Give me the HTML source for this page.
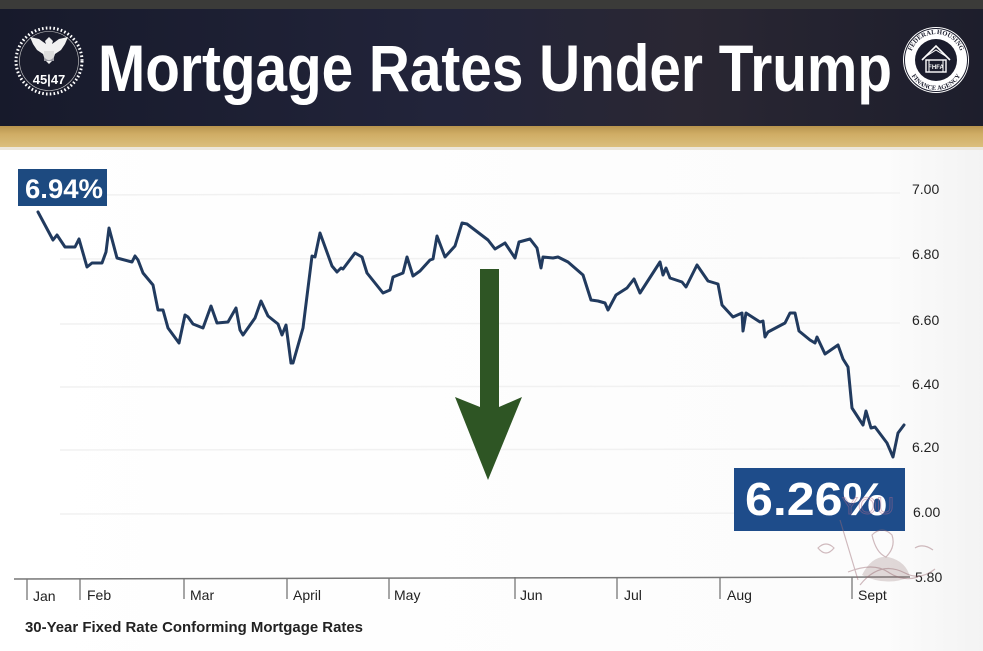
<!DOCTYPE html>
<html>
<head>
<meta charset="utf-8">
<style>
html,body{margin:0;padding:0;background:#fff;}
body{width:983px;height:651px;overflow:hidden;}
svg{display:block;font-family:"Liberation Sans",sans-serif;}
</style>
</head>
<body>
<svg width="983" height="651" viewBox="0 0 983 651" xmlns="http://www.w3.org/2000/svg">
  <defs>
    <linearGradient id="ban" x1="0" y1="0" x2="1" y2="0">
      <stop offset="0" stop-color="#171a2b"/>
      <stop offset="0.45" stop-color="#22243a"/>
      <stop offset="0.7" stop-color="#2a2733"/>
      <stop offset="1" stop-color="#1d1e2c"/>
    </linearGradient>
    <linearGradient id="gold" x1="0" y1="0" x2="0" y2="1">
      <stop offset="0" stop-color="#b8944e"/>
      <stop offset="0.35" stop-color="#cfac64"/>
      <stop offset="1" stop-color="#dcc07e"/>
    </linearGradient>
    <linearGradient id="bg" x1="0" y1="0" x2="1" y2="0">
      <stop offset="0" stop-color="#ffffff"/>
      <stop offset="0.9" stop-color="#fcfcfc"/>
      <stop offset="1" stop-color="#f3f3f3"/>
    </linearGradient>
    <path id="arcTop" d="M 910,60 A 26,26 0 0 1 962,60"/>
    <path id="arcBot" d="M 908,62 A 28,28 0 0 0 964,62"/>
  </defs>

  <rect x="0" y="0" width="983" height="651" fill="url(#bg)"/>

  <!-- header -->
  <rect x="0" y="0" width="983" height="10" fill="#3b3b39"/>
  <rect x="0" y="9" width="983" height="119" fill="url(#ban)"/>
  <rect x="0" y="126" width="983" height="22" fill="url(#gold)"/>
  <rect x="0" y="147" width="983" height="3" fill="#ece7dc"/>

  <!-- left seal -->
  <g>
    <circle cx="49" cy="61" r="33" fill="#1a1c2c" stroke="#ffffff" stroke-width="3" stroke-dasharray="1.6 2.2"/>
    <circle cx="49" cy="61" r="29.5" fill="none" stroke="#cfcfcf" stroke-width="0.6"/>
    <path d="M49,37 l4,4 l-1,3 l7,-5 l9,-2 l-3,7 l-4,6 l-6,4 l-2,6 l-4,4 l-4,-4 l-2,-6 l-6,-4 l-4,-6 l-3,-7 l9,2 l7,5 l-1,-3 z" fill="#f1f1f1"/>
    <rect x="44" y="51" width="10" height="10" fill="#9a9aa2"/>
    <path d="M44,51 h10 v6 q-5,6 -10,0 z" fill="#dddddd"/>
    <text x="49" y="84" font-size="13" font-weight="bold" fill="#ffffff" text-anchor="middle">45|47</text>
  </g>

  <!-- title -->
  <text x="98" y="91" font-size="66" font-weight="bold" fill="#ffffff" textLength="794" lengthAdjust="spacingAndGlyphs">Mortgage Rates Under Trump</text>

  <!-- right seal -->
  <g>
    <circle cx="936" cy="60" r="33" fill="#ffffff"/>
    <circle cx="936" cy="60" r="31.5" fill="none" stroke="#1a1c2c" stroke-width="1"/>
    <circle cx="936" cy="60" r="21" fill="#1a1c2c"/>
    <text font-size="6.5" font-weight="bold" fill="#1a1c2c" font-family="Liberation Serif,serif"><textPath href="#arcTop" startOffset="50%" text-anchor="middle">FEDERAL HOUSING</textPath></text>
    <text font-size="6.5" font-weight="bold" fill="#1a1c2c" font-family="Liberation Serif,serif"><textPath href="#arcBot" startOffset="50%" text-anchor="middle">FINANCE AGENCY</textPath></text>
    <path d="M922,60 L936,46 L950,60" fill="none" stroke="#fff" stroke-width="1.6"/>
    <path d="M925,57 L936,50 L947,57" fill="none" stroke="#fff" stroke-width="1"/>
    <rect x="926" y="60" width="20" height="12" fill="none" stroke="#fff" stroke-width="1.4"/>
    <line x1="929" y1="60" x2="929" y2="72" stroke="#fff" stroke-width="1"/>
    <line x1="943" y1="60" x2="943" y2="72" stroke="#fff" stroke-width="1"/>
    <text x="936" y="69" font-size="6" font-weight="bold" fill="#fff" text-anchor="middle">FHFA</text>
  </g>

  <!-- gridlines -->
  <g stroke="#f1f1f1" stroke-width="1.5">
    <line x1="60" y1="195" x2="900" y2="193"/>
    <line x1="60" y1="259" x2="900" y2="258"/>
    <line x1="60" y1="324" x2="900" y2="323"/>
    <line x1="60" y1="387" x2="900" y2="386"/>
    <line x1="60" y1="450" x2="900" y2="449"/>
    <line x1="60" y1="514" x2="900" y2="513"/>
  </g>

  <!-- y labels -->
  <g font-size="14" fill="#222">
    <text x="912" y="194">7.00</text>
    <text x="912" y="259">6.80</text>
    <text x="912" y="325">6.60</text>
    <text x="912" y="389">6.40</text>
    <text x="912" y="452">6.20</text>
    <text x="913" y="517">6.00</text>
    <text x="915" y="582">5.80</text>
  </g>

  <!-- x axis -->
  <line x1="14" y1="579" x2="910" y2="577" stroke="#777" stroke-width="1.5"/>
  <g stroke="#777" stroke-width="1.3">
    <line x1="27" y1="579" x2="27" y2="600"/>
    <line x1="80" y1="579" x2="80" y2="600"/>
    <line x1="184" y1="578" x2="184" y2="599"/>
    <line x1="287" y1="578" x2="287" y2="599"/>
    <line x1="389" y1="578" x2="389" y2="599"/>
    <line x1="515" y1="577" x2="515" y2="599"/>
    <line x1="617" y1="577" x2="617" y2="599"/>
    <line x1="720" y1="577" x2="720" y2="599"/>
    <line x1="852" y1="577" x2="852" y2="599"/>
  </g>
  <g font-size="14" fill="#222">
    <text x="33" y="601">Jan</text>
    <text x="87" y="600">Feb</text>
    <text x="190" y="600">Mar</text>
    <text x="293" y="600">April</text>
    <text x="394" y="600">May</text>
    <text x="520" y="600">Jun</text>
    <text x="624" y="600">Jul</text>
    <text x="727" y="600">Aug</text>
    <text x="858" y="600">Sept</text>
  </g>
  <text x="25" y="632" font-size="15" font-weight="bold" fill="#222" textLength="338" lengthAdjust="spacingAndGlyphs">30-Year Fixed Rate Conforming Mortgage Rates</text>

  <!-- green arrow -->
  <polygon points="480,269 499,269 499,407 522,397 488,480 455,397 480,407" fill="#2e5524"/>

  <!-- series line -->
  <polyline fill="none" stroke="#213a5e" stroke-width="3" stroke-linejoin="round" stroke-linecap="round"
    points="38,212 53,240 57,235 65,247 75,247 79,239 87,267 92,263 102,263 106,252 109,228 117,258 132,262 135,256 138,260 143,273 153,285 158,310 163,310 168,328 179,343 185,315 188,317 193,324 203,328 211,306 217,323 228,322 236,308 240,330 243,335 255,318 261,301 268,316 278,324 282,335 286,325 291,363 293,363 303,328 312,256 315,257 320,233 332,266 337,272 341,268 343,269 355,253 362,257 367,273 383,293 390,290 393,277 403,273 407,257 413,276 420,271 430,260 433,259 437,236 445,257 455,246 462,223 467,224 488,240 495,249 505,243 515,258 519,242 530,239 537,248 541,268 543,257 553,258 558,257 568,262 583,275 591,300 598,301 605,303 608,310 616,295 627,288 634,279 640,293 660,262 663,275 666,268 670,278 682,282 686,287 697,265 708,281 718,284 722,305 733,317 742,313 743,331 746,313 760,322 763,321 765,337 768,332 785,323 790,313 795,313 799,331 810,340 815,343 817,337 825,354 838,345 843,359 848,367 852,408 863,425 866,411 871,428 875,427 887,443 893,457 898,433 904,425"/>

  <!-- value boxes -->
  <rect x="18" y="169" width="89" height="37" fill="#1d4a80"/>
  <text x="25" y="198" font-size="27" font-weight="bold" fill="#ffffff" textLength="78" lengthAdjust="spacingAndGlyphs">6.94%</text>

  <rect x="734" y="468" width="171" height="63" fill="#1e4c8a"/>
  <text x="745" y="515" font-size="46" font-weight="bold" fill="#ffffff" textLength="142" lengthAdjust="spacingAndGlyphs">6.26%</text>

  <!-- faint watermark -->
  <g opacity="0.45" fill="none" stroke="#9a6a72" stroke-width="1.2">
    <text x="842" y="514" font-size="24" fill="none" stroke="#b06a8a" stroke-width="1">YOU</text>
    <path d="M872,535 q10,-10 20,0 q4,12 -6,22 q-10,-4 -14,-22 z"/>
    <path d="M860,585 q20,-25 45,-12 q15,8 30,-4"/>
    <path d="M848,572 q25,-10 40,0 q15,10 30,5"/>
    <path d="M840,520 l18,60"/>
    <path d="M818,548 q8,-8 16,0 q-8,10 -16,0 z"/>
    <path d="M915,548 q8,-5 18,2"/>
  </g>
  <g opacity="0.25" fill="#8a6a6a">
    <path d="M862,575 q10,-20 26,-18 q18,4 22,20 q-24,10 -48,-2 z"/>
  </g>
</svg>
</body>
</html>
